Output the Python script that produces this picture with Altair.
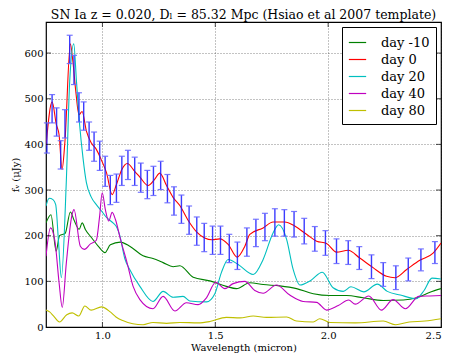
import altair as alt
import pandas as pd

# ---- data ----
days = ["day -10", "day 0", "day 20", "day 40", "day 80"]
colors = ["#008000", "#ff0000", "#00bfbf", "#bf00bf", "#bfbf00"]

green_wl = [0.750, 0.772, 0.795, 0.810, 0.835, 0.858, 0.875, 0.897, 0.910, 0.925, 0.953, 0.983,
            1.011, 1.035, 1.079, 1.121, 1.180, 1.224, 1.269, 1.313, 1.343, 1.402, 1.476, 1.549,
            1.594, 1.653, 1.712, 1.786, 1.860, 1.934, 2.008, 2.082, 2.155, 2.244, 2.333, 2.392,
            2.451, 2.500]
green_f = [228, 246, 166, 200, 205, 252, 233, 214, 228, 213, 195, 176,
           163, 180, 186, 177, 156, 150, 141, 132, 134, 109, 101, 89,
           84, 97, 93, 90, 84, 73, 69, 69, 64, 58, 59, 64,
           76, 84]

red_wl = [0.750, 0.777, 0.796, 0.808, 0.821, 0.834, 0.858, 0.869, 0.882, 0.896, 0.910, 0.929,
          0.951, 0.973, 0.996, 1.018, 1.043, 1.062, 1.086, 1.110, 1.143, 1.165, 1.202, 1.232,
          1.254, 1.284, 1.313, 1.343, 1.378, 1.418, 1.453, 1.485, 1.520, 1.557, 1.597, 1.631,
          1.653, 1.712, 1.756, 1.808, 1.852, 1.904, 1.949, 1.993, 2.037, 2.089, 2.140, 2.199,
          2.259, 2.296, 2.348, 2.406, 2.465, 2.500]
red_f = [396, 493, 443, 421, 345, 407, 620, 582, 516, 465, 472, 429,
         403, 389, 365, 338, 290, 312, 345, 358, 341, 329, 310, 324,
         337, 310, 284, 266, 235, 208, 195, 191, 193, 181, 153, 177,
         203, 217, 230, 230, 221, 203, 188, 183, 164, 168, 151, 130,
         111, 108, 126, 146, 162, 184]

cyan_wl = [0.750, 0.764, 0.781, 0.793, 0.805, 0.818, 0.840, 0.855, 0.873, 0.885, 0.899, 0.914,
           0.929, 0.950, 0.973, 0.996, 1.018, 1.047, 1.065, 1.077, 1.099, 1.121, 1.166, 1.224,
           1.269, 1.313, 1.357, 1.387, 1.461, 1.498, 1.527, 1.557, 1.601, 1.668, 1.712, 1.756,
           1.781, 1.816, 1.845, 1.875, 1.923, 1.974, 2.022, 2.067, 2.101, 2.158, 2.218, 2.262,
           2.320, 2.390, 2.425, 2.460, 2.500]
cyan_f = [265, 282, 279, 268, 190, 108, 319, 538, 620, 538, 443, 370,
          316, 285, 268, 254, 240, 228, 217, 200, 150, 126, 89, 56,
          78, 65, 67, 57, 55, 73, 119, 148, 137, 115, 148, 206,
          224, 192, 126, 92, 102, 120, 86, 78, 88, 77, 94, 78,
          70, 62, 80, 107, 105]

magenta_wl = [0.750, 0.770, 0.789, 0.808, 0.822, 0.840, 0.865, 0.874, 0.902, 0.920, 0.947, 0.973,
              0.987, 0.999, 1.013, 1.028, 1.043, 1.058, 1.080, 1.109, 1.136, 1.166, 1.224, 1.269,
              1.321, 1.372, 1.424, 1.461, 1.502, 1.542, 1.579, 1.631, 1.675, 1.712, 1.771, 1.830,
              1.889, 1.949, 1.993, 2.045, 2.091, 2.120, 2.180, 2.236, 2.288, 2.342, 2.401, 2.450,
              2.500]
magenta_f = [155, 217, 190, 97, 43, 140, 245, 257, 177, 170, 182, 190,
             240, 294, 257, 232, 251, 235, 192, 141, 89, 60, 40, 67,
             35, 53, 49, 64, 98, 84, 95, 100, 80, 74, 92, 70,
             56, 54, 37, 47, 59, 50, 68, 37, 60, 40, 67, 68,
             69]

yellow_wl = [0.750, 0.766, 0.782, 0.810, 0.842, 0.866, 0.895, 0.922, 0.950, 0.996, 1.035, 1.060,
             1.090, 1.135, 1.180, 1.224, 1.284, 1.343, 1.424, 1.476, 1.549, 1.609, 1.668, 1.727,
             1.816, 1.860, 1.934, 1.963, 2.008, 2.120, 2.244, 2.300, 2.359, 2.429, 2.500]
yellow_f = [37, 33, 25, 11, 27, 31, 24, 46, 37, 44, 33, 22,
            14, 7, 5, 10, 8, 10, 9, 12, 21, 20, 24, 21,
            22, 13, 11, 18, 10, 9, 13, 5, 11, 13, 18]

# binned day-0 points with error bars
eb_wl = [0.754, 0.777, 0.797, 0.815, 0.834, 0.855, 0.874, 0.896, 0.917, 0.941,
         0.963, 0.988, 1.012, 1.035, 1.062, 1.086, 1.113, 1.143, 1.170, 1.199,
         1.226, 1.258, 1.288, 1.317, 1.350, 1.384, 1.418, 1.451, 1.488, 1.523,
         1.562, 1.598, 1.640, 1.680, 1.720, 1.764, 1.806, 1.849, 1.894, 1.941,
         1.988, 2.037, 2.089, 2.138, 2.192, 2.244, 2.300, 2.355, 2.411, 2.473]
eb_f = [414, 478, 449, 377, 445, 608, 563, 481, 462, 418,
        395, 375, 341, 300, 304, 342, 355, 341, 327, 312,
        320, 332, 303, 276, 258, 234, 210, 196, 190, 190,
        172, 156, 186, 206, 219, 229, 228, 225, 210, 193,
        184, 166, 163, 151, 132, 115, 108, 126, 147, 163]
eb_err = [33, 31, 31, 31, 31, 31, 32, 32, 31, 31,
          32, 32, 33, 32, 31, 32, 32, 31, 32, 31,
          32, 31, 31, 31, 31, 31, 31, 31, 31, 31,
          31, 30, 31, 30, 30, 30, 29, 28, 28, 27,
          27, 27, 26, 25, 26, 26, 26, 25, 24, 24]

x_ticks = [1.0, 1.5, 2.0, 2.5]
y_ticks = [0, 100, 200, 300, 400, 500, 600]

# ---- tables ----
series = [("day -10", green_wl, green_f), ("day 0", red_wl, red_f),
          ("day 20", cyan_wl, cyan_f), ("day 40", magenta_wl, magenta_f),
          ("day 80", yellow_wl, yellow_f)]
rows = []
for k, (name, wl, fl) in enumerate(series):
    for w, f in zip(wl, fl):
        rows.append({"wl": w, "flux": f, "day": name, "k": k})
lines_df = pd.DataFrame(rows)

eb_df = pd.DataFrame({"wl": eb_wl,
                      "lo": [c - e for c, e in zip(eb_f, eb_err)],
                      "hi": [c + e for c, e in zip(eb_f, eb_err)]})
xt_df = pd.DataFrame({"v": x_ticks[:-1]})
yt_df = pd.DataFrame({"v": y_ticks[1:]})

W, H = 395, 305
FONT = "DejaVu Serif"
xs = alt.Scale(domain=[0.75, 2.5], nice=False, zero=False)
ys = alt.Scale(domain=[0, 668], nice=False, zero=False)

x_axis = alt.Axis(title="Wavelength (micron)", values=x_ticks, format=".1f",
                  labelPadding=3, titlePadding=2)
y_axis = alt.Axis(title="fᵥ (μJy)", values=y_ticks, format="d",
                  labelPadding=3, titlePadding=3)

lines = alt.Chart(lines_df).mark_line(interpolate="monotone", strokeWidth=1.1, clip=True).encode(
    x=alt.X("wl:Q", scale=xs, axis=x_axis),
    y=alt.Y("flux:Q", scale=ys, axis=y_axis),
    color=alt.Color("day:N", scale=alt.Scale(domain=days, range=colors),
                    legend=alt.Legend(title=None, orient="none", legendX=296, legendY=5,
                                      symbolType="stroke", symbolSize=300, symbolStrokeWidth=1.2,
                                      labelFontSize=13, labelFont=FONT, labelOffset=14,
                                      padding=6, rowPadding=0, strokeColor="black",
                                      fillColor="white", labelColor="black")),
    detail="k:O",
)

ebar = alt.Chart(eb_df).mark_rule(color="#1a1aff", strokeWidth=1.4, opacity=0.85).encode(
    x=alt.X("wl:Q", scale=xs), y=alt.Y("lo:Q", scale=ys), y2="hi:Q")
cap_hi = alt.Chart(eb_df).mark_tick(orient="horizontal", size=6, thickness=1.2,
                                    color="#6a6aff", opacity=0.9).encode(
    x=alt.X("wl:Q", scale=xs), y=alt.Y("hi:Q", scale=ys))
cap_lo = alt.Chart(eb_df).mark_tick(orient="horizontal", size=6, thickness=1.2,
                                    color="#6a6aff", opacity=0.9).encode(
    x=alt.X("wl:Q", scale=xs), y=alt.Y("lo:Q", scale=ys))

tk = dict(color="black", thickness=1, size=5)
xt_bot = alt.Chart(xt_df).mark_tick(orient="vertical", **tk).encode(
    x=alt.X("v:Q", scale=xs), y=alt.value(H - 2.5))
xt_top = alt.Chart(xt_df).mark_tick(orient="vertical", **tk).encode(
    x=alt.X("v:Q", scale=xs), y=alt.value(2.5))
yt_left = alt.Chart(yt_df).mark_tick(orient="horizontal", **tk).encode(
    y=alt.Y("v:Q", scale=ys), x=alt.value(2.5))
yt_right = alt.Chart(yt_df).mark_tick(orient="horizontal", **tk).encode(
    y=alt.Y("v:Q", scale=ys), x=alt.value(W - 2.5))

chart = alt.layer(lines, ebar, cap_hi, cap_lo, xt_bot, xt_top, yt_left, yt_right).properties(
    width=W, height=H,
    title="SN Ia z = 0.020, Dₗ = 85.32 Mpc (Hsiao et al 2007 template)",
    autosize=alt.AutoSizeParams(type="none"),
    padding={"left": 38, "top": 14, "right": 6, "bottom": 27},
).configure(font=FONT).configure_axis(
    labelFont=FONT, labelFontSize=10, labelColor="black",
    titleFont=FONT, titleFontSize=10, titleFontWeight="normal", titleColor="black",
    domain=False, ticks=False, grid=True, gridColor="black", gridDash=[1, 2],
    gridWidth=0.6, gridOpacity=0.8,
).configure_view(stroke="black", strokeWidth=1.2).configure_title(
    font=FONT, fontSize=12.5, fontWeight="normal", anchor="middle", offset=1, color="black"
)

chart.save("out.html", embed_options={"renderer": "svg", "actions": False})
